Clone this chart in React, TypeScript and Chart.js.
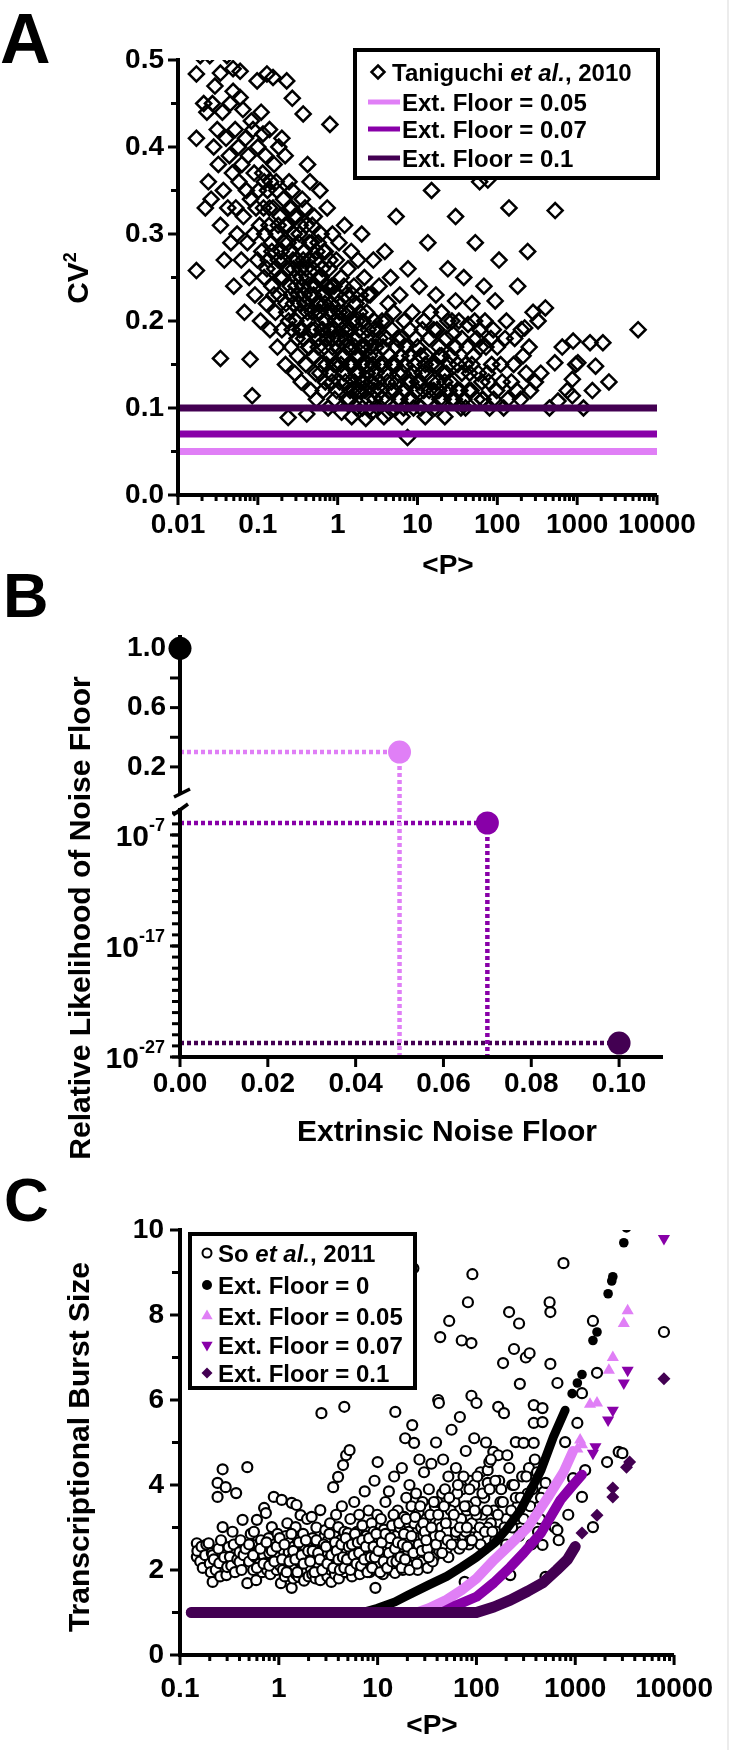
import React, { useEffect, useRef } from "react";
import { Chart, registerables } from "chart.js";
Chart.register(...registerables);

const FONT = '"Liberation Sans", Arial, Helvetica, sans-serif';
Chart.defaults.font.family = FONT;
Chart.defaults.color = "#000";

const BLACK = "#000000";
const LIGHT = "#E07FF6";
const MID = "#8800A8";
const DARK = "#430052";

// ================= Panel A data =================
const taniguchiData: number[][] = [
  [0.017,0.484],[0.017,0.41],[0.017,0.258],[0.019,0.505],[0.021,0.45],[0.022,0.33],[0.023,0.44],[0.024,0.36],[0.025,0.505],[0.026,0.34],[0.027,0.45],[0.028,0.40],[0.029,0.47],
  [0.031,0.42],[0.032,0.38],[0.034,0.485],[0.034,0.31],[0.034,0.157],[0.036,0.44],[0.037,0.35],[0.038,0.27],[0.04,0.41],[0.041,0.505],[0.042,0.33],[0.044,0.39],[0.045,0.45],[0.046,0.29],[0.048,0.37],[0.049,0.49],[0.049,0.464],[0.05,0.24],[0.052,0.42],[0.053,0.33],[0.055,0.30],[0.057,0.40],[0.058,0.36],[0.06,0.487],[0.06,0.457],[0.062,0.27],[0.063,0.38],[0.065,0.443],[0.066,0.32],[0.068,0.21],[0.07,0.41],[0.072,0.35],[0.074,0.29],[0.076,0.39],[0.078,0.25],[0.08,0.156],[0.081,0.34],[0.083,0.43],[0.085,0.114],[0.087,0.42],[0.088,0.30],[0.09,0.37],[0.092,0.23],[0.095,0.33],[0.098,0.476],[0.099,0.27],
  [0.10,0.40],[0.102,0.35],[0.105,0.31],[0.108,0.20],[0.11,0.44],[0.112,0.28],[0.115,0.37],[0.116,0.415],[0.118,0.33],[0.12,0.25],[0.122,0.30],[0.125,0.39],[0.128,0.22],[0.13,0.484],[0.132,0.35],[0.135,0.27],[0.138,0.31],[0.14,0.42],[0.142,0.19],[0.145,0.36],[0.148,0.29],[0.15,0.24],[0.155,0.48],[0.155,0.33],[0.16,0.38],[0.163,0.26],[0.166,0.21],[0.17,0.30],[0.173,0.35],[0.176,0.17],[0.18,0.27],[0.183,0.40],[0.186,0.23],[0.19,0.32],[0.195,0.28],[0.2,0.41],[0.2,0.19],[0.205,0.25],[0.21,0.34],[0.215,0.29],[0.22,0.39],[0.222,0.15],[0.225,0.22],[0.23,0.476],[0.232,0.31],[0.236,0.26],[0.24,0.089],[0.243,0.20],[0.246,0.36],[0.25,0.28],[0.255,0.24],[0.26,0.17],[0.265,0.33],[0.27,0.456],[0.27,0.35],[0.275,0.27],[0.28,0.22],[0.285,0.30],[0.29,0.14],[0.295,0.25],
  [0.30,0.20],[0.305,0.32],[0.31,0.27],[0.315,0.16],[0.32,0.23],[0.33,0.30],[0.335,0.19],[0.34,0.26],[0.35,0.13],[0.355,0.21],[0.36,0.34],[0.365,0.24],[0.37,0.438],[0.375,0.18],[0.38,0.28],[0.39,0.22],[0.40,0.15],[0.405,0.31],[0.41,0.093],[0.415,0.25],[0.42,0.38],[0.425,0.20],[0.43,0.27],[0.44,0.17],[0.45,0.36],[0.455,0.23],[0.46,0.12],[0.47,0.29],[0.48,0.21],[0.49,0.26],[0.50,0.16],[0.51,0.32],[0.52,0.19],[0.53,0.24],[0.54,0.11],[0.55,0.28],[0.56,0.21],[0.57,0.17],[0.58,0.25],[0.6,0.35],[0.6,0.14],[0.61,0.22],[0.62,0.30],[0.63,0.19],[0.64,0.26],[0.66,0.12],[0.67,0.23],[0.68,0.17],[0.7,0.28],[0.71,0.20],[0.72,0.15],[0.74,0.33],[0.75,0.24],[0.76,0.10],[0.78,0.19],[0.8,0.426],[0.8,0.27],[0.81,0.16],[0.83,0.22],[0.85,0.13],[0.86,0.30],[0.88,0.18],[0.9,0.24],[0.92,0.11],[0.94,0.20],[0.96,0.27],[0.98,0.15],
  [1.0,0.22],[1.02,0.17],[1.04,0.29],[1.06,0.13],[1.08,0.20],[1.1,0.25],[1.12,0.095],[1.14,0.16],[1.17,0.21],[1.2,0.14],[1.22,0.31],[1.25,0.18],[1.27,0.23],[1.3,0.11],[1.32,0.19],[1.35,0.26],[1.38,0.15],[1.4,0.21],[1.43,0.12],[1.46,0.17],[1.48,0.28],[1.5,0.09],[1.53,0.20],[1.56,0.15],[1.6,0.24],[1.63,0.13],[1.66,0.18],[1.7,0.22],[1.73,0.10],[1.76,0.16],[1.8,0.27],[1.83,0.14],[1.86,0.19],[1.9,0.12],[1.93,0.23],[1.96,0.17],[2.0,0.30],[2.0,0.15],[2.04,0.10],[2.08,0.20],[2.12,0.13],[2.16,0.25],[2.2,0.17],[2.25,0.088],[2.3,0.21],[2.35,0.14],[2.4,0.19],[2.45,0.11],[2.5,0.16],[2.55,0.23],[2.6,0.13],[2.65,0.095],[2.7,0.18],[2.75,0.15],[2.8,0.27],[2.85,0.12],[2.9,0.20],[2.95,0.16],
  [3.0,0.14],[3.1,0.19],[3.2,0.10],[3.3,0.24],[3.4,0.15],[3.5,0.12],[3.6,0.20],[3.7,0.17],[3.8,0.09],[3.9,0.28],[4.0,0.14],[4.1,0.18],[4.2,0.11],[4.3,0.22],[4.4,0.095],[4.5,0.16],[4.6,0.25],[4.7,0.13],[4.8,0.19],[5.0,0.21],[5.0,0.10],[5.2,0.15],[5.4,0.32],[5.5,0.13],[5.6,0.18],[5.8,0.11],[6.0,0.23],[6.2,0.16],[6.4,0.09],[6.6,0.14],[6.8,0.20],[7.0,0.12],[7.2,0.17],[7.5,0.066],[7.6,0.26],[7.8,0.11],[8.0,0.19],[8.3,0.13],[8.6,0.21],[8.9,0.10],[9.2,0.15],[9.5,0.18],[9.8,0.12],
  [10,0.17],[10.5,0.24],[11,0.10],[11.5,0.14],[12,0.20],[12.5,0.09],[13,0.16],[13.5,0.29],[14,0.12],[15,0.35],[15,0.15],[16,0.19],[16.5,0.10],[17,0.23],[18,0.13],[18.5,0.17],[19,0.11],[20,0.21],[21,0.14],[22,0.09],[23,0.18],[24,0.26],[25,0.12],[26,0.16],[27,0.20],[28,0.185],[29,0.11],
  [30,0.32],[30,0.223],[32,0.15],[34,0.12],[36,0.18],[38,0.25],[40,0.10],[43,0.196],[45,0.14],[48,0.22],[50,0.16],[53,0.29],[56,0.11],[60,0.36],[60,0.19],[64,0.13],[68,0.24],[72,0.17],[76,0.362],[80,0.10],[85,0.15],[89,0.19],[94,0.223],[98,0.12],
  [105,0.27],[110,0.15],[120,0.10],[130,0.20],[140,0.33],[150,0.13],[165,0.18],[180,0.24],[195,0.11],[210,0.16],[220,0.192],[240,0.28],[260,0.12],[280,0.21],
  [324,0.20],[350,0.14],[400,0.215],[450,0.10],[525,0.152],[530,0.327],[575,0.108],[650,0.17],[750,0.12],[870,0.133],[890,0.177],[870,0.114],[960,0.15],
  [1020,0.152],[1200,0.10],[1450,0.175],[1550,0.12],[1700,0.148],[2100,0.175],[2500,0.13],[5800,0.19],
  [0.12,0.36],[0.13,0.26],[0.14,0.33],[0.15,0.28],[0.16,0.23],[0.17,0.36],[0.18,0.31],[0.19,0.25],[0.21,0.27],[0.22,0.31],[0.23,0.21],[0.24,0.29],[0.25,0.33],[0.26,0.23],[0.27,0.19],[0.28,0.26],[0.29,0.32],[0.3,0.24],[0.31,0.18],[0.32,0.29],[0.33,0.22],[0.34,0.31],[0.35,0.25],[0.36,0.19],[0.37,0.27],[0.38,0.23],[0.39,0.33],[0.4,0.26],[0.42,0.21],[0.43,0.17],[0.44,0.29],[0.46,0.24],[0.47,0.19],[0.48,0.31],[0.5,0.23],[0.52,0.27],[0.53,0.14],[0.55,0.22],[0.57,0.29],[0.58,0.18],[0.6,0.21],[0.62,0.25],[0.63,0.15],[0.65,0.19],[0.67,0.28],[0.69,0.22],[0.7,0.13],[0.72,0.24],[0.74,0.18],[0.76,0.21],[0.78,0.26],[0.8,0.14],[0.82,0.19],[0.84,0.24],[0.86,0.17],[0.88,0.21],[0.9,0.15],[0.93,0.19],[0.95,0.23],[0.97,0.12],
  [1.0,0.18],[1.05,0.21],[1.1,0.15],[1.15,0.19],[1.2,0.24],[1.25,0.13],[1.3,0.17],[1.35,0.21],[1.4,0.11],[1.45,0.19],[1.5,0.15],[1.55,0.23],[1.6,0.12],[1.65,0.17],[1.7,0.14],[1.75,0.20],[1.8,0.12],[1.85,0.16],[1.9,0.21],[2.0,0.13],[2.1,0.17],[2.2,0.12],[2.3,0.15],[2.4,0.23],[2.5,0.10],[2.6,0.17],[2.7,0.13],[2.8,0.19],[2.9,0.11],[3.0,0.17],[3.2,0.13],[3.4,0.18],[3.6,0.11],[3.8,0.15],[4.0,0.20],[4.2,0.13],[4.5,0.12],[4.8,0.15],[5.1,0.12],[5.4,0.17],[5.7,0.14],[6.0,0.11],[6.3,0.18],[6.7,0.10],[7.0,0.15],[7.5,0.13],[8.0,0.16],[8.5,0.11],[9.0,0.14],[10,0.13],[11,0.16],[12,0.12],[13,0.14],[14,0.18],[16,0.12],[17,0.15],[19,0.16],[21,0.11],[23,0.14],[26,0.13],[30,0.17],[35,0.10],[40,0.15],[47,0.12],[55,0.18],[65,0.11],[75,0.14],
  [10.5,0.13],[11.5,0.19],[12.5,0.15],[13.5,0.11],[14.5,0.21],[15.5,0.13],[17.5,0.19],[18.5,0.12],[20,0.16],[22,0.13],[24,0.20],[25,0.15],[27,0.11],[29,0.17],[32,0.12],[33,0.20],[36,0.14],[38,0.11],[42,0.17],[44,0.12],[48,0.15],[52,0.20],[58,0.14],[62,0.17],[66,0.11],[70,0.20],[78,0.13],[83,0.18],[90,0.11],[100,0.17],[115,0.13],[125,0.18],[135,0.11],[160,0.15],[175,0.12],[200,0.19],[230,0.14],[250,0.17],[300,0.13],
];
const aFloorLevels = [0.05, 0.07, 0.1];
const aFloorLabels = ["Ext. Floor = 0.05", "Ext. Floor = 0.07", "Ext. Floor = 0.1"];
const aXTicks = [0.01, 0.1, 1, 10, 100, 1000, 10000];
const aXTickLabels = ["0.01", "0.1", "1", "10", "100", "1000", "10000"];
const aYTicks = [0, 0.1, 0.2, 0.3, 0.4, 0.5];
const aYTickLabels = ["0.0", "0.1", "0.2", "0.3", "0.4", "0.5"];
const aYMinor = [0.05, 0.15, 0.25, 0.35, 0.45];

// ================= Panel B data =================
const bFloors = [0, 0.05, 0.07, 0.1];
const bLikelihood = [1.0, 0.30, 1.2e-6, 1.8e-26];
const bXTicks = [0, 0.02, 0.04, 0.06, 0.08, 0.1];
const bXTickLabels = ["0.00", "0.02", "0.04", "0.06", "0.08", "0.10"];
const bTopTicks = [0.2, 0.4, 0.6, 0.8, 1.0];
const bTopLabelled = [0.2, 0.6, 1.0];
const bBotLabelExp = [-7, -17, -27];
const bTopMin = -0.03, bTopMax = 1.09;
const bBotMin = 1e-27, bBotMax = 1.15e-4;

// ================= Panel C data =================
const soData: number[][] = [
  [0.148,2.63],[0.148,2.31],[0.15,2.45],[0.16,2.2],[0.165,2.55],[0.17,2.05],[0.18,2.35],[0.185,2.6],[0.195,2.63],[0.2,2.15],[0.205,1.95],[0.21,2.4],[0.214,2.35],[0.214,1.72],[0.22,2.25],[0.23,2.0],[0.24,4.05],[0.24,3.72],[0.245,2.5],[0.25,2.16],[0.255,1.85],[0.26,2.7],[0.27,4.37],[0.27,3.01],[0.28,2.3],[0.29,3.95],[0.295,1.88],[0.3,2.07],
  [0.31,2.54],[0.32,2.31],[0.33,2.1],[0.34,2.9],[0.35,2.6],[0.36,1.95],[0.37,3.81],[0.38,2.25],[0.4,2.42],[0.4,2.19],[0.41,2.7],[0.42,2.0],[0.43,3.18],[0.44,2.35],[0.46,2.5],[0.48,4.42],[0.48,1.69],[0.5,2.2],[0.52,2.85],[0.54,2.59],[0.55,2.0],[0.56,2.9],[0.58,2.3],[0.59,1.76],[0.6,3.18],[0.62,2.45],[0.64,2.15],[0.66,2.7],[0.68,1.95],[0.7,2.35],[0.71,3.46],[0.72,2.55],[0.74,3.34],[0.74,2.16],[0.76,2.0],[0.79,2.75],[0.8,2.4],[0.82,1.9],[0.85,3.01],[0.87,2.2],[0.89,3.72],[0.9,2.6],[0.93,2.31],[0.95,2.0],[0.97,2.85],
  [1.0,2.3],[1.03,2.1],[1.05,1.69],[1.07,3.65],[1.07,2.63],[1.1,2.0],[1.12,2.45],[1.15,1.85],[1.18,2.8],[1.2,2.2],[1.22,3.1],[1.25,1.95],[1.26,2.42],[1.3,2.65],[1.32,2.05],[1.35,3.58],[1.35,1.58],[1.38,2.3],[1.4,1.8],[1.42,2.55],[1.45,2.1],[1.48,3.01],[1.5,1.9],[1.51,3.53],[1.53,2.35],[1.56,2.7],[1.58,1.84],[1.6,2.2],[1.63,2.45],[1.66,3.29],[1.68,1.95],[1.7,2.6],[1.73,2.1],[1.76,2.85],[1.8,1.75],[1.83,2.3],[1.86,2.5],[1.9,2.0],[1.93,3.2],[1.96,2.25],[2.0,1.85],[2.03,2.65],[2.06,2.4],[2.1,2.05],[2.15,3.25],[2.18,1.9],[2.2,2.75],[2.25,2.2],[2.3,2.5],[2.35,1.8],[2.4,3.0],[2.45,2.35],[2.5,2.1],[2.55,2.6],[2.6,1.95],[2.63,3.41],[2.63,1.76],[2.7,5.69],[2.72,2.45],[2.8,2.54],[2.85,2.2],[2.9,2.8],
  [2.95,2.94],[3.0,2.07],[3.05,2.4],[3.1,1.85],[3.15,2.7],[3.2,2.25],[3.3,3.1],[3.35,2.0],[3.4,1.72],[3.45,2.55],[3.5,2.3],[3.55,3.95],[3.6,2.1],[3.65,2.8],[3.7,1.9],[3.75,2.45],[3.8,3.3],[3.85,2.2],[3.9,2.6],[3.98,4.19],[4.0,3.01],[4.05,1.8],[4.1,2.35],[4.2,2.7],[4.3,2.05],[4.35,3.5],[4.4,2.5],[4.47,4.47],[4.5,2.2],[4.6,5.84],[4.6,2.9],[4.7,1.95],[4.8,4.7],[4.8,2.4],[4.9,2.65],[5.0,2.87],[5.0,2.1],[5.2,4.82],[5.2,2.3],[5.3,3.2],[5.4,2.4],[5.5,1.85],[5.6,2.75],[5.7,2.2],[5.8,3.6],[5.9,2.5],[6.0,2.0],[6.2,2.9],[6.3,2.3],[6.5,3.3],[6.6,1.9],[6.7,2.6],[6.9,2.15],[7.0,3.05],[7.2,2.45],[7.4,3.85],[7.5,2.05],[7.7,2.8],[7.9,2.3],[8.1,3.4],[8.3,1.95],[8.5,2.6],[8.7,3.1],[8.9,2.2],[9.1,2.9],[9.3,4.1],[9.5,1.58],[9.7,2.5],[9.9,3.3],
  [10,4.54],[10,2.1],[10.4,2.7],[10.8,3.2],[11,2.3],[11.3,1.9],[11.6,2.95],[12,3.6],[12.3,2.45],[12.6,2.15],[13,3.85],[13.3,2.6],[13.6,2.0],[14,3.05],[14.3,2.4],[14.7,4.2],[15,1.93],[15.1,5.72],[15.5,2.8],[16,3.4],[16.4,2.25],[16.8,3.0],[17.2,2.55],[17.6,4.4],[18,2.0],[18.5,3.25],[19,5.1],[19,2.7],[19.5,3.7],[20,2.35],[20.5,2.9],[21,4.0],[21.5,2.1],[22,3.5],[22.4,5.41],[22.5,2.6],[23,9.1],[23.4,4.99],[23.5,3.1],[24,2.3],[24.5,3.8],[25,2.75],[25.5,2.0],[26,3.35],[26.5,4.6],[27,2.5],[27.5,3.0],[28,2.2],[28.5,3.6],[29,2.8],[29.5,4.3],[30,2.4],
  [31,3.2],[32,2.05],[33,3.9],[34,2.6],[35,4.5],[36,2.9],[37,2.3],[38,3.5],[39,5.0],[40,2.7],[41,6.0],[41.7,5.93],[42,3.1],[43,7.48],[44,2.4],[45,3.8],[46,4.6],[47,2.9],[48,3.3],[50,2.5],[52,4.2],[53,7.86],[54,3.0],[56,5.3],[58,2.7],[60,3.6],[62,4.4],[64,2.9],[66,3.2],[68,5.6],[71,7.4],[72,3.9],[75,2.8],[76,1.72],[78,4.8],[80,3.4],[82,8.3],[84,2.6],[86,4.1],[89,7.34],[89,6.1],[91,8.96],[93,3.0],[95,5.1],[98,3.6],
  [100,5.93],[105,2.8],[110,4.3],[115,3.3],[120,2.5],[125,5.0],[130,4.35],[130,4.05],[135,4.54],[140,3.1],[148,4.78],[155,2.7],[166,4.7],[166,5.84],[175,3.6],[186,6.87],[190,5.69],[200,3.2],[214,8.07],[220,1.88],[230,4.0],[240,7.2],[250,5.01],[260,3.5],[270,7.8],[275,6.38],[285,2.9],[300,4.99],
  [316,7.0],[330,3.8],[340,4.4],[345,7.1],[360,2.6],[380,5.88],[380,5.46],[380,4.99],[420,3.48],[440,3.2],[466,5.81],[466,5.48],[466,2.59],[480,3.84],[500,4.05],[500,1.84],[550,8.3],[560,8.07],[560,6.85],[620,3.0],[660,6.4],[660,2.94],[680,2.7],[760,9.22],[790,5.01],[850,3.3],[950,4.16],
  [1050,5.46],[1170,6.16],[1170,3.72],[1260,4.35],[1510,7.86],[1510,3.01],[1660,6.64],[2100,4.54],[2750,4.78],[3000,4.75],[7900,7.6],
  [0.5,2.6],[0.55,2.35],[0.6,2.05],[0.65,2.5],[0.7,2.15],[0.75,2.65],[0.8,2.1],[0.85,2.45],[0.9,2.2],[0.95,2.55],
  [1.02,2.75],[1.08,2.25],[1.14,2.6],[1.2,1.95],[1.28,2.2],[1.34,2.85],[1.4,2.45],[1.47,2.25],[1.54,1.95],[1.6,2.65],[1.7,2.35],[1.78,2.15],[1.88,2.7],[1.98,2.45],[2.08,2.2],[2.2,2.45],[2.3,1.95],[2.4,2.7],[2.5,2.4],[2.6,2.25],[2.75,2.0],[2.85,2.6],
  [3.0,2.55],[3.1,2.15],[3.25,2.85],[3.4,2.35],[3.55,2.05],[3.7,2.65],[3.85,2.45],[4.0,2.25],[4.15,2.0],[4.3,2.6],[4.45,2.3],[4.6,2.05],[4.75,2.75],[4.9,2.25],[5.1,2.55],[5.3,2.0],[5.5,2.6],[5.7,2.35],[5.9,2.85],[6.1,2.15],[6.3,2.65],[6.5,2.4],[6.8,2.1],[7.0,2.7],[7.3,2.25],[7.6,2.55],[7.9,1.95],[8.2,2.75],[8.5,2.3],[8.8,2.05],[9.1,2.55],[9.4,2.3],[9.7,2.85],
  [10.2,2.45],[10.6,1.95],[11,2.65],[11.5,2.2],[12,2.85],[12.5,2.05],[13,2.4],[13.5,2.75],[14,2.2],[14.5,3.3],[15,2.5],[15.5,2.2],[16,2.65],[16.5,3.1],[17,2.3],[17.5,2.05],[18,2.6],[18.5,2.85],[19,2.25],[19.5,3.2],[20,2.55],[21,2.0],[22,2.8],[23,2.4],[24,3.25],[25,2.15],[26,2.6],[27,3.5],[28,2.45],[29,3.1],
  [30,2.9],[32,2.5],[34,3.3],[36,2.2],[38,2.8],[40,3.6],[42,2.45],[44,3.0],[46,2.6],[48,3.9],[50,2.9],[52,2.3],[55,3.4],[58,3.1],[61,2.6],[64,3.8],[67,2.5],[70,3.2],[74,4.2],[78,2.9],[82,3.5],[86,2.7],[90,3.1],[95,4.0],
  [100,3.3],[110,2.6],[120,3.7],[130,3.0],[140,4.6],[150,3.4],[160,2.9],[170,4.1],[185,3.6],[200,2.6],[215,4.4],[230,3.0],[250,3.7],[270,2.8],[290,4.2],
  [31,2.7],[33,2.3],[35,3.0],[37,3.6],[39,2.6],[41,3.3],[43,2.8],[45,2.4],[47,3.5],[49,3.1],[51,2.7],[53,3.7],[56,2.6],[59,3.3],[62,2.9],[65,4.0],[68,3.0],[72,2.6],[76,3.5],[80,3.0],[85,3.9],[90,2.7],[96,3.4],[102,4.2],[108,3.0],[115,3.8],[122,2.9],[128,3.4],[136,3.9],[145,2.9],[155,4.1],[165,3.3],[178,3.9],[192,3.0],[205,4.7],[225,3.4],[240,4.0],[255,3.2],[280,3.7],[300,3.2],[320,4.2],[350,3.5],[370,3.9],[390,4.6],[410,4.3],[420,2.9],[450,3.7],
];
// model predictions (dense part read as a continuous band, sparse tail as markers)
const floor0Curve: number[][] = [[0.13,1],[7,1],[10,1.1],[15,1.25],[20,1.4],[33,1.65],[50,1.85],[71,2.07],[100,2.3],[151,2.63],[200,2.95],[280,3.41],[350,3.85],[450,4.35],[600,5.13],[790,5.76]];
const floor0Dots: number[][] = [[930,6.15],[1050,6.4],[1170,6.6],[1510,7.4],[1660,7.6],[2150,8.5],[2340,8.8],[2400,8.9],[3100,9.7],[3300,10.05]];
const floor05Curve: number[][] = [[0.13,1],[25,1],[33,1.1],[50,1.3],[71,1.53],[100,1.8],[151,2.24],[220,2.6],[330,3.0],[525,3.7],[760,4.3],[950,4.8]];
const floor05Dots: number[][] = [[1050,4.85],[1120,5.06],[1170,4.95],[1410,5.9],[1660,5.93],[2190,6.7],[2400,7.0],[3100,7.8],[3390,8.1]];
const floor07Curve: number[][] = [[0.13,1],[45,1],[60,1.15],[100,1.37],[150,1.7],[220,2.07],[300,2.4],[450,2.87],[710,3.65],[950,4.0],[1170,4.24]];
const floor07Dots: number[][] = [[1510,4.75],[1600,4.9],[2150,5.53],[2400,5.76],[3100,6.4],[3390,6.7],[7900,9.8]];
const floor10Curve: number[][] = [[0.13,1],[100,1],[150,1.13],[220,1.29],[330,1.5],[470,1.7],[650,2.0],[830,2.24],[1000,2.55]];
const floor10Dots: number[][] = [[1170,2.87],[1660,3.29],[2400,3.72],[2400,3.93],[3300,4.42],[3550,4.54],[7900,6.5]];
const cXTicks = [0.1, 1, 10, 100, 1000, 10000];
const cXTickLabels = ["0.1", "1", "10", "100", "1000", "10000"];
const cYTicks = [0, 2, 4, 6, 8, 10];
const cYTickLabels = ["0", "2", "4", "6", "8", "10"];
const cYMinor = [1, 3, 5, 7, 9];

// ================= helpers =================
type Part = { t: string; size: number; italic?: boolean; rise?: number };
const fontOf = (p: Part) => `${p.italic ? "italic " : ""}bold ${p.size}px ${FONT}`;
function drawRich(ctx: any, parts: Part[], x: number, y: number, align: string) {
  let w = 0;
  for (const p of parts) { ctx.font = fontOf(p); w += ctx.measureText(p.t).width; }
  let cx = align === "left" ? x : align === "center" ? x - w / 2 : x - w;
  ctx.textAlign = "left";
  ctx.textBaseline = "alphabetic";
  ctx.fillStyle = BLACK;
  for (const p of parts) {
    ctx.font = fontOf(p);
    ctx.fillText(p.t, cx, y - (p.rise || 0));
    cx += ctx.measureText(p.t).width;
  }
}
function drawRotated(ctx: any, parts: Part[], baselineX: number, centerY: number) {
  ctx.save();
  ctx.translate(baselineX, centerY);
  ctx.rotate(-Math.PI / 2);
  drawRich(ctx, parts, 0, 0, "center");
  ctx.restore();
}
function seg(ctx: any, x1: number, y1: number, x2: number, y2: number, w: number, color = BLACK) {
  ctx.beginPath();
  ctx.strokeStyle = color;
  ctx.lineWidth = w;
  ctx.lineCap = "butt";
  ctx.moveTo(x1, y1);
  ctx.lineTo(x2, y2);
  ctx.stroke();
}
function yTicks(ctx: any, scale: any, vals: number[], axisX: number, len: number) {
  for (const v of vals) { const p = scale.getPixelForValue(v); seg(ctx, axisX - 2 - len, p, axisX, p, 3); }
}
function xTicks(ctx: any, scale: any, vals: number[], axisY: number, len: number) {
  for (const v of vals) { const p = scale.getPixelForValue(v); seg(ctx, p, axisY, p, axisY + 2 + len, 3); }
}
function logMinor(lo: number, hi: number) {
  const out: number[] = [];
  for (let e = lo; e < hi; e++) for (let m = 2; m <= 9; m++) out.push(m * Math.pow(10, e));
  return out;
}
function legendBox(ctx: any, x1: number, y1: number, x2: number, y2: number) {
  ctx.fillStyle = "#fff";
  ctx.fillRect(x1, y1, x2 - x1, y2 - y1);
  ctx.lineWidth = 4;
  ctx.strokeStyle = BLACK;
  ctx.strokeRect(x1 + 2, y1 + 2, x2 - x1 - 4, y2 - y1 - 4);
}
function marker(ctx: any, kind: string, cx: number, cy: number, r: number, color: string) {
  ctx.beginPath();
  if (kind === "diamond" || kind === "fdiamond") {
    ctx.moveTo(cx, cy - r); ctx.lineTo(cx + r, cy); ctx.lineTo(cx, cy + r); ctx.lineTo(cx - r, cy); ctx.closePath();
  } else if (kind === "tri") {
    ctx.moveTo(cx, cy - r); ctx.lineTo(cx + r * 0.866, cy + r / 2); ctx.lineTo(cx - r * 0.866, cy + r / 2); ctx.closePath();
  } else if (kind === "dtri") {
    ctx.moveTo(cx, cy + r); ctx.lineTo(cx + r * 0.866, cy - r / 2); ctx.lineTo(cx - r * 0.866, cy - r / 2); ctx.closePath();
  } else {
    ctx.arc(cx, cy, r, 0, Math.PI * 2);
  }
  if (kind === "diamond" || kind === "ocircle") {
    ctx.fillStyle = "#fff"; ctx.fill();
    ctx.lineWidth = kind === "diamond" ? 2.5 : 2; ctx.strokeStyle = BLACK; ctx.stroke();
  } else {
    ctx.fillStyle = color; ctx.fill();
  }
}
const tickFont = { family: FONT, size: 28, weight: "bold" as const, lineHeight: 1.2 };
const xy = (arr: number[][]) => arr.map(([x, y]) => ({ x, y }));
const noGrid = { display: false, drawTicks: false };
const noBorder = { display: false };
const floorColors = [LIGHT, MID, DARK];

// ================= Panel A =================
function configA(): any {
  const plugin = {
    id: "figA",
    afterDraw(chart: any) {
      const ctx = chart.ctx;
      const { left, right, top, bottom } = chart.chartArea;
      const xs = chart.scales.x, ys = chart.scales.y;
      ctx.save();
      seg(ctx, left, top - 2, left, bottom + 2, 4);
      seg(ctx, left - 2, bottom, right, bottom, 4);
      yTicks(ctx, ys, aYTicks, left, 8);
      yTicks(ctx, ys, aYMinor, left, 5);
      xTicks(ctx, xs, aXTicks, bottom, 8);
      xTicks(ctx, xs, logMinor(-2, 4), bottom, 4);
      drawRich(ctx, [{ t: "A", size: 70 }], 0, 63, "left");
      drawRotated(ctx, [{ t: "CV", size: 30 }, { t: "2", size: 18, rise: 12 }], 88, 278);
      drawRich(ctx, [{ t: "<P>", size: 28 }], 448, 574, "center");
      legendBox(ctx, 353, 48, 660, 180);
      marker(ctx, "diamond", 378, 72, 6.5, BLACK);
      drawRich(ctx, [{ t: "Taniguchi ", size: 24 }, { t: "et al.", size: 24, italic: true }, { t: ", 2010", size: 24 }], 392, 80.6, "left");
      const rows = [102, 129, 158];
      rows.forEach((ry, k) => {
        seg(ctx, 368, ry, 400, ry, 5, floorColors[k]);
        drawRich(ctx, [{ t: aFloorLabels[k], size: 24 }], 402, ry + 8.6, "left");
      });
      ctx.restore();
    },
  };
  return {
    type: "scatter",
    data: {
      datasets: [
        ...aFloorLevels.map((lvl, k) => ({
          data: [{ x: aXTicks[0], y: lvl }, { x: aXTicks[aXTicks.length - 1], y: lvl }],
          showLine: true, borderColor: floorColors[k], borderWidth: 7, pointRadius: 0, clip: 0, order: 1,
        })),
        {
          data: xy(taniguchiData), pointStyle: "rectRot", pointRadius: 7.5, borderColor: BLACK, borderWidth: 2.5,
          backgroundColor: "rgba(0,0,0,0)", clip: 0, order: 2,
        },
      ],
    },
    options: {
      responsive: false, animation: false, devicePixelRatio: 1, events: [],
      layout: { padding: { left: 0, top: 60, right: 73, bottom: 0 } },
      plugins: { legend: { display: false }, tooltip: { enabled: false } },
      scales: {
        x: {
          type: "logarithmic", min: 0.01, max: 10000, grid: noGrid, border: noBorder,
          ticks: { font: tickFont, color: BLACK, padding: 13, autoSkip: false, maxRotation: 0, callback: (_v: any, i: number) => aXTickLabels[i] },
          afterBuildTicks: (s: any) => { s.ticks = aXTicks.map((v) => ({ value: v })); },
          afterFit: (s: any) => { s.height = 1750 - 495; },
        },
        y: {
          type: "linear", min: 0, max: 0.5, grid: noGrid, border: noBorder,
          ticks: { font: tickFont, color: BLACK, padding: 14, autoSkip: false, callback: (_v: any, i: number) => aYTickLabels[i] },
          afterBuildTicks: (s: any) => { s.ticks = aYTicks.map((v) => ({ value: v })); },
          afterFit: (s: any) => { s.width = 178; },
        },
      },
    },
    plugins: [plugin],
  };
}

// ================= Panel B =================
function configB(): any {
  const plugin = {
    id: "figB",
    afterDraw(chart: any) {
      const ctx = chart.ctx;
      const { left, right, bottom } = chart.chartArea;
      const xs = chart.scales.x, yt = chart.scales.yTop, yb = chart.scales.yBot;
      ctx.save();
      const brk = yt.bottom;
      seg(ctx, left, yt.top, left, brk - 8, 4);
      seg(ctx, left, brk + 7, left, bottom + 2, 4);
      seg(ctx, left - 2, bottom, right, bottom, 4);
      seg(ctx, left - 6, brk - 4, left + 10, brk - 12, 3.5);
      seg(ctx, left - 7, brk + 14, left + 8, brk + 3, 3.5);
      yTicks(ctx, yt, bTopTicks, left, 8);
      const dec: number[] = [];
      for (let e = -27; e <= -5; e++) dec.push(Math.pow(10, e));
      yTicks(ctx, yb, dec, left, 6);
      yTicks(ctx, yb, bBotLabelExp.map((e) => Math.pow(10, e)), left, 8);
      xTicks(ctx, xs, bXTicks, bottom, 8);
      for (const e of bBotLabelExp) {
        const p = yb.getPixelForValue(Math.pow(10, e));
        drawRich(ctx, [{ t: "10", size: 30 }, { t: String(e), size: 18, rise: 15 }], 165, p + 10.7, "right");
      }
      drawRich(ctx, [{ t: "B", size: 63 }], 3, 617, "left");
      drawRotated(ctx, [{ t: "Relative Likelihood of Noise Floor", size: 30 }], 90, 918);
      drawRich(ctx, [{ t: "Extrinsic Noise Floor", size: 30 }], 447, 1141, "center");
      ctx.restore();
    },
  };
  const dash = { showLine: true, pointRadius: 0, borderWidth: 4.5, borderDash: [4, 3], clip: false, order: 2 };
  return {
    type: "scatter",
    data: {
      datasets: [
        { ...dash, yAxisID: "yTop", borderColor: LIGHT, data: [{ x: 0, y: bLikelihood[1] }, { x: bFloors[1], y: bLikelihood[1] }] },
        { ...dash, yAxisID: "yTop", borderColor: LIGHT, data: [{ x: bFloors[1], y: bLikelihood[1] }, { x: bFloors[1], y: bTopMin }] },
        { ...dash, yAxisID: "yBot", borderColor: LIGHT, data: [{ x: bFloors[1], y: bBotMax }, { x: bFloors[1], y: bBotMin }] },
        { ...dash, yAxisID: "yBot", borderColor: MID, data: [{ x: 0, y: bLikelihood[2] }, { x: bFloors[2], y: bLikelihood[2] }] },
        { ...dash, yAxisID: "yBot", borderColor: MID, data: [{ x: bFloors[2], y: bLikelihood[2] }, { x: bFloors[2], y: bBotMin }] },
        { ...dash, yAxisID: "yBot", borderColor: DARK, data: [{ x: 0, y: bLikelihood[3] }, { x: bFloors[3], y: bLikelihood[3] }] },
        {
          yAxisID: "yTop", clip: false, order: 1, pointRadius: 11.5, borderWidth: 0,
          backgroundColor: [BLACK, LIGHT], pointBackgroundColor: [BLACK, LIGHT],
          data: [{ x: bFloors[0], y: bLikelihood[0] }, { x: bFloors[1], y: bLikelihood[1] }],
        },
        {
          yAxisID: "yBot", clip: false, order: 1, pointRadius: 11.5, borderWidth: 0,
          backgroundColor: [MID, DARK], pointBackgroundColor: [MID, DARK],
          data: [{ x: bFloors[2], y: bLikelihood[2] }, { x: bFloors[3], y: bLikelihood[3] }],
        },
      ],
    },
    options: {
      responsive: false, animation: false, devicePixelRatio: 1, events: [],
      layout: { padding: { left: 0, top: 635, right: 67, bottom: 0 } },
      plugins: { legend: { display: false }, tooltip: { enabled: false } },
      scales: {
        x: {
          type: "linear", min: 0, max: 0.11, grid: noGrid, border: noBorder,
          ticks: { font: tickFont, color: BLACK, padding: 10, autoSkip: false, maxRotation: 0, callback: (_v: any, i: number) => bXTickLabels[i] },
          afterBuildTicks: (s: any) => { s.ticks = bXTicks.map((v) => ({ value: v })); },
          afterFit: (s: any) => { s.height = 1750 - 1057; },
        },
        yBot: {
          type: "logarithmic", position: "left", stack: "b", stackWeight: 256, weight: 0,
          min: bBotMin, max: bBotMax, grid: noGrid, border: noBorder,
          ticks: { display: false },
          afterFit: (s: any) => { s.width = 180; },
        },
        yTop: {
          type: "linear", position: "left", stack: "b", stackWeight: 166, weight: 1,
          min: bTopMin, max: bTopMax, grid: noGrid, border: noBorder,
          ticks: { font: tickFont, color: BLACK, padding: 14, autoSkip: false, callback: (v: any) => Number(v).toFixed(1) },
          afterBuildTicks: (s: any) => { s.ticks = bTopLabelled.map((v) => ({ value: v })); },
          afterFit: (s: any) => { s.width = 180; },
        },
      },
    },
    plugins: [plugin],
  };
}

// ================= Panel C =================
function configC(): any {
  const series = [
    { curve: floor0Curve, dots: floor0Dots, color: BLACK, style: "circle", r: 4.8, rot: 0, width: 9, order: 4 },
    { curve: floor05Curve, dots: floor05Dots, color: LIGHT, style: "triangle", r: 7, rot: 0, width: 10, order: 3 },
    { curve: floor07Curve, dots: floor07Dots, color: MID, style: "triangle", r: 7, rot: 180, width: 10, order: 2 },
    { curve: floor10Curve, dots: floor10Dots, color: DARK, style: "rectRot", r: 6.5, rot: 0, width: 11, order: 1 },
  ];
  const legendRows = [
    { kind: "ocircle", color: BLACK, parts: [{ t: "So ", size: 24 }, { t: "et al.", size: 24, italic: true }, { t: ", 2011", size: 24 }] },
    { kind: "circle", color: BLACK, parts: [{ t: "Ext. Floor = 0", size: 24 }] },
    { kind: "tri", color: LIGHT, parts: [{ t: "Ext. Floor = 0.05", size: 24 }] },
    { kind: "dtri", color: MID, parts: [{ t: "Ext. Floor = 0.07", size: 24 }] },
    { kind: "fdiamond", color: DARK, parts: [{ t: "Ext. Floor = 0.1", size: 24 }] },
  ];
  const rowY = [1253, 1285, 1316, 1345, 1373];
  const rowR = [4.5, 5, 6.5, 6.5, 5.5];
  const plugin = {
    id: "figC",
    afterDraw(chart: any) {
      const ctx = chart.ctx;
      const { left, right, top, bottom } = chart.chartArea;
      const xs = chart.scales.x, ys = chart.scales.y;
      ctx.save();
      seg(ctx, left, top - 2, left, bottom + 2, 4);
      seg(ctx, left - 2, bottom, right, bottom, 4);
      yTicks(ctx, ys, cYTicks, left, 8);
      yTicks(ctx, ys, cYMinor, left, 6);
      xTicks(ctx, xs, cXTicks, bottom, 8);
      xTicks(ctx, xs, logMinor(-1, 4), bottom, 4);
      drawRich(ctx, [{ t: "C", size: 62 }], 4, 1221, "left");
      drawRotated(ctx, [{ t: "Transcriptional Burst Size", size: 30 }], 89, 1447);
      drawRich(ctx, [{ t: "<P>", size: 28 }], 432, 1734, "center");
      legendBox(ctx, 188, 1232, 417, 1390);
      legendRows.forEach((row, k) => {
        marker(ctx, row.kind, 207, rowY[k], rowR[k], row.color);
        drawRich(ctx, row.parts, 218, rowY[k] + 8.6, "left");
      });
      ctx.restore();
    },
  };
  const datasets: any[] = [
    {
      data: xy(soData), pointStyle: "circle", pointRadius: 5, borderWidth: 2.2, borderColor: BLACK,
      backgroundColor: "#fff", clip: 0, order: 5,
    },
  ];
  for (const s of series) {
    datasets.push({
      data: xy(s.curve), showLine: true, pointRadius: 0, borderColor: s.color, borderWidth: s.width,
      borderCapStyle: "round", borderJoinStyle: "round", clip: 0, order: s.order,
    });
    datasets.push({
      data: xy(s.dots), pointStyle: s.style, pointRadius: s.r, rotation: s.rot, borderWidth: 0,
      backgroundColor: s.color, borderColor: s.color, clip: 0, order: s.order,
    });
  }
  return {
    type: "scatter",
    data: { datasets },
    options: {
      responsive: false, animation: false, devicePixelRatio: 1, events: [],
      layout: { padding: { left: 0, top: 1230, right: 50, bottom: 0 } },
      plugins: { legend: { display: false }, tooltip: { enabled: false } },
      scales: {
        x: {
          type: "logarithmic", min: 0.1, max: 10000, grid: noGrid, border: noBorder,
          ticks: { font: tickFont, color: BLACK, padding: 17, autoSkip: false, maxRotation: 0, callback: (_v: any, i: number) => cXTickLabels[i] },
          afterBuildTicks: (s: any) => { s.ticks = cXTicks.map((v) => ({ value: v })); },
          afterFit: (s: any) => { s.height = 1750 - 1655; },
        },
        y: {
          type: "linear", min: 0, max: 10, grid: noGrid, border: noBorder,
          ticks: { font: tickFont, color: BLACK, padding: 16, autoSkip: false, callback: (_v: any, i: number) => cYTickLabels[i] },
          afterBuildTicks: (s: any) => { s.ticks = cYTicks.map((v) => ({ value: v })); },
          afterFit: (s: any) => { s.width = 180; },
        },
      },
    },
    plugins: [plugin],
  };
}

export default function App() {
  const refA = useRef<HTMLCanvasElement>(null);
  const refB = useRef<HTMLCanvasElement>(null);
  const refC = useRef<HTMLCanvasElement>(null);
  useEffect(() => {
    const charts = [
      new Chart(refA.current as HTMLCanvasElement, configA()),
      new Chart(refB.current as HTMLCanvasElement, configB()),
      new Chart(refC.current as HTMLCanvasElement, configC()),
    ];
    return () => charts.forEach((c) => c.destroy());
  }, []);
  const cs: React.CSSProperties = { position: "absolute", left: 0, top: 0, width: 730, height: 1750 };
  return (
    <div style={{ position: "absolute", left: 0, top: 0, width: 730, height: 1750, background: "#fff", overflow: "hidden" }}>
      <canvas ref={refA} width={730} height={1750} style={cs} />
      <canvas ref={refB} width={730} height={1750} style={cs} />
      <canvas ref={refC} width={730} height={1750} style={cs} />
      <div style={{ position: "absolute", left: 727, top: 0, width: 2, height: 1750, background: "#ececec" }} />
    </div>
  );
}
